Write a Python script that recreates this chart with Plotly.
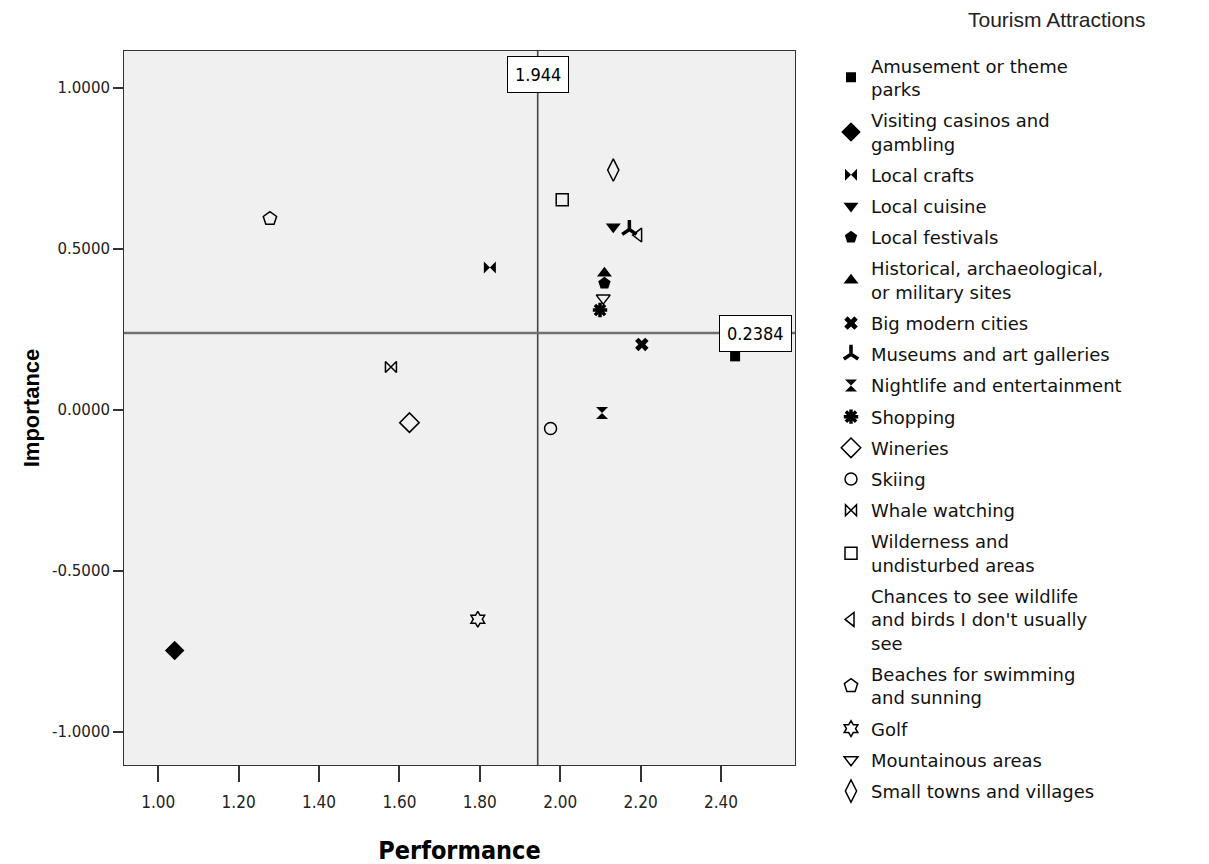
import plotly.graph_objects as go

names = [
    "Amusement or theme<br>parks",
    "Visiting casinos and<br>gambling",
    "Local crafts",
    "Local cuisine",
    "Local festivals",
    "Historical, archaeological,<br>or military sites",
    "Big modern cities",
    "Museums and art galleries",
    "Nightlife and entertainment",
    "Shopping",
    "Wineries",
    "Skiing",
    "Whale watching",
    "Wilderness and<br>undisturbed areas",
    "Chances to see wildlife<br>and birds I don't usually<br>see",
    "Beaches for swimming<br>and sunning",
    "Golf",
    "Mountainous areas",
    "Small towns and villages",
]
performance = [2.435, 1.041, 1.825, 2.132, 2.110, 2.110, 2.203, 2.172, 2.104, 2.099,
               1.625, 1.976, 1.579, 2.005, 2.195, 1.278, 1.795, 2.107, 2.132]
importance = [0.166, -0.748, 0.442, 0.569, 0.393, 0.424, 0.203, 0.560, -0.010, 0.310,
              -0.040, -0.058, 0.133, 0.653, 0.543, 0.594, -0.651, 0.347, 0.745]
symbols = ["square", "diamond", "bowtie", "triangle-down", "pentagon", "triangle-up",
           "x", "y-up-open", "hourglass", "asterisk-open", "diamond-open", "circle-open",
           "bowtie-open", "square-open", "triangle-left-open", "pentagon-open",
           "hexagram-open", "triangle-down-open", "diamond-tall-open"]
sizes = [10, 15, 12, 13, 13, 13, 12, 12, 12, 12, 15, 12, 11, 12, 12, 14, 12, 12, 16]
line_w = [0, 0, 0, 0, 0, 0, 0, 3.5, 0, 3.5, 1.5, 1.5, 1.5, 1.5, 1.5, 1.5, 1.5, 1.5, 1.5]

x_ref = 1.944
y_ref = 0.2384
x_ticks = [1.0, 1.2, 1.4, 1.6, 1.8, 2.0, 2.2, 2.4]
y_ticks = [-1.0, -0.5, 0.0, 0.5, 1.0]
y_ticktext = ["-1.0000", "-0.5000", "0.0000", "0.5000", "1.0000"]

NARROW = "DejaVu Sans Condensed, Liberation Sans Narrow, Liberation Sans, Arial"
SANS = "Liberation Sans, Arial"
WIDE = "DejaVu Sans, Liberation Sans, Arial"

fig = go.Figure()
for i, n in enumerate(names):
    fig.add_trace(go.Scatter(
        x=[performance[i]], y=[importance[i]], mode="markers", name=n,
        legendgroup=f"g{i}",
        marker=dict(symbol=symbols[i], size=sizes[i], color="black",
                    line=dict(color="black", width=line_w[i])),
    ))

fig.add_shape(type="line", xref="x", yref="paper", x0=x_ref, x1=x_ref, y0=0, y1=1,
              line=dict(color="#454545", width=1.6), layer="below")
fig.add_shape(type="line", xref="paper", yref="y", x0=0, x1=1, y0=y_ref, y1=y_ref,
              line=dict(color="#707070", width=2.5), layer="below")

fig.add_annotation(x=x_ref, xref="x", y=1, yref="paper", yanchor="top", yshift=-5,
                   text=f"{x_ref:.3f}", showarrow=False,
                   font=dict(family=NARROW, size=18, color="black"),
                   bgcolor="white", bordercolor="black", borderwidth=1, borderpad=7)
fig.add_annotation(x=1, xref="paper", xanchor="right", xshift=-3, y=y_ref, yref="y",
                   text=f"{y_ref:.4f}", showarrow=False,
                   font=dict(family=NARROW, size=18, color="black"),
                   bgcolor="white", bordercolor="black", borderwidth=1, borderpad=7)

fig.add_annotation(xref="paper", yref="paper",
                   x=(1056 - 124) / 671, y=1 + (51 - 20) / 714,
                   xanchor="center", yanchor="middle",
                   text="Tourism Attractions", showarrow=False,
                   font=dict(family=SANS, size=21, color="#222"))

fig.update_layout(
    width=1209, height=864,
    margin=dict(l=116, r=422, t=43, b=107),
    paper_bgcolor="white", plot_bgcolor="#f0f0f0",
    showlegend=True,
    legend=dict(x=(831 - 124) / 671, y=1.005, xanchor="left", yanchor="top",
                font=dict(family=WIDE, size=18, color="#111"),
                tracegroupgap=4.8, bgcolor="rgba(0,0,0,0)", itemsizing="trace",
                maxheight=840),
    xaxis=dict(range=[0.915, 2.584], tickvals=x_ticks, tickformat=".2f",
               ticks="outside", ticklen=16, tickwidth=1.5, tickcolor="#333",
               ticklabelstandoff=6,
               showgrid=False, zeroline=False, showline=True, linecolor="#333",
               linewidth=1, mirror=True,
               tickfont=dict(family=NARROW, size=17, color="#222"),
               title=dict(text="<b>Performance</b>", standoff=30,
                          font=dict(family=NARROW, size=25, color="black"))),
    yaxis=dict(range=[-1.104, 1.115], tickvals=y_ticks, ticktext=y_ticktext,
               ticks="outside", ticklen=10, tickwidth=1.5, tickcolor="#333",
               showgrid=False, zeroline=False, showline=True, linecolor="#333",
               linewidth=1, mirror=True,
               tickfont=dict(family=WIDE, size=15, color="#222"),
               title=dict(text="<b>Importance</b>", standoff=6,
                          font=dict(family=SANS, size=22, color="black"))),
)

fig.write_html("out.html")
